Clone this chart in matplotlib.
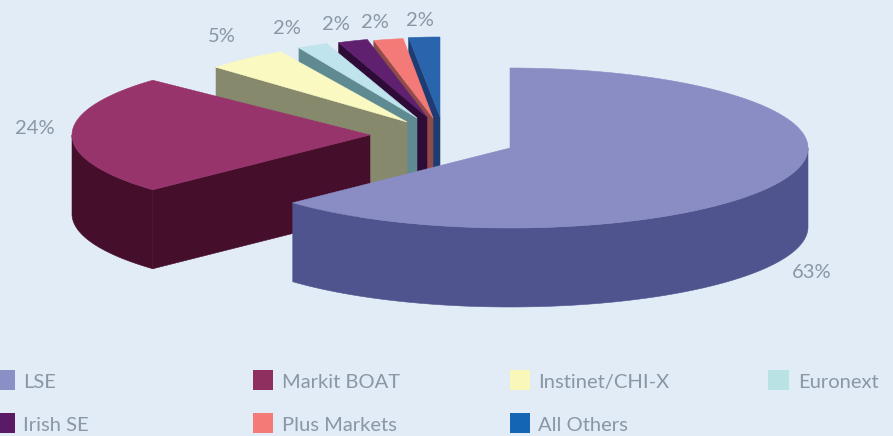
import numpy as np
import matplotlib
matplotlib.use("Agg")
import matplotlib.pyplot as plt
from matplotlib.patches import Polygon, Rectangle

# Market share by venue
venues = ["LSE", "Markit BOAT", "Instinet/CHI-X", "Euronext", "Irish SE", "Plus Markets", "All Others"]
shares = [63, 24, 5, 2, 2, 2, 2]

# Appearance of each slice
top_colors = ["#8a8cc4", "#97346b", "#fbf9c2", "#bfe4ee", "#5f2070", "#f47a78", "#2a64ad"]
wall_colors = ["#50548e", "#450f2c", "#87896c", "#5f8a92", "#2f0b38", "#8f4c48", "#1f3c72"]
swatch_colors = ["#8a8fc6", "#8f2f60", "#faf8b8", "#b8e2e4", "#5a1a66", "#f47a78", "#1565b5"]

# Pie layout, in pixels
slice_centres = [(510, 148), (370, 135), (407, 122), (417, 118), (427, 117), (433, 118), (440, 117)]
slice_rx = [298, 298, 262, 245, 240, 238, 250]
RY, DEPTH = 80, 79

label_pos = [(812, 272), (35, 128), (222, 37), (287, 28), (336, 25), (375, 23), (420, 21)]
legend_swatch = [(0, 370, 15), (253, 370, 20), (510, 370, 20), (768, 370, 21),
                 (0, 413, 15), (253, 413, 20), (510, 413, 20)]
legend_text = [(23, 382), (282, 382), (538, 382), (798, 382), (23, 425), (282, 425), (538, 425)]

BG = "#e2ecf6"
TEXT = "#8b96a6"
FONT = {"family": "Lato", "weight": "normal"}

fig = plt.figure(figsize=(8.93, 4.36), dpi=100, facecolor=BG)
ax = fig.add_axes([0, 0, 1, 1])
ax.set_xlim(0, 893)
ax.set_ylim(436, 0)
ax.axis("off")


def rim(cx, cy, rx, angles, drop=0):
    """Points on the projected rim; angles run clockwise from 12 o'clock."""
    return np.column_stack([cx + rx * np.sin(angles), cy - RY * np.cos(angles) + drop])


edges = np.radians(np.cumsum([0] + shares) * 3.6)

# Painted back to front: the smallest slices first, LSE last
for i in range(len(shares) - 1, -1, -1):
    a0, a1 = edges[i], edges[i + 1]
    cx, cy = slice_centres[i]
    rx = slice_rx[i]
    arc = np.linspace(a0, a1, 160)

    # Cut faces that turn towards the viewer
    if np.pi < a0 < 2 * np.pi:
        p = rim(cx, cy, rx, np.array([a0]))[0]
        ax.add_patch(Polygon([(cx, cy), p, (p[0], p[1] + DEPTH), (cx, cy + DEPTH)],
                             fc=wall_colors[i], ec=wall_colors[i], lw=0.4))
    if 0 < a1 < np.pi:
        p = rim(cx, cy, rx, np.array([a1]))[0]
        ax.add_patch(Polygon([(cx, cy), p, (p[0], p[1] + DEPTH), (cx, cy + DEPTH)],
                             fc=wall_colors[i], ec=wall_colors[i], lw=0.4))

    # Outer wall on the near half of the pie
    lo, hi = max(a0, np.pi / 2), min(a1, 3 * np.pi / 2)
    if lo < hi:
        near = np.linspace(lo, hi, 160)
        wall = np.vstack([rim(cx, cy, rx, near), rim(cx, cy, rx, near[::-1], DEPTH)])
        ax.add_patch(Polygon(wall, fc=wall_colors[i], ec=wall_colors[i], lw=0.4))

    # Top face
    top = np.vstack([[(cx, cy)], rim(cx, cy, rx, arc)])
    ax.add_patch(Polygon(top, fc=top_colors[i], ec=top_colors[i], lw=0.4))

# Percentage labels
for share, (x, y) in zip(shares, label_pos):
    ax.text(x, y, f"{share}%", color=TEXT, fontsize=14.5, ha="center", va="center", **FONT)

# Legend
for name, col, (sx, sy, w), (tx, ty) in zip(venues, swatch_colors, legend_swatch, legend_text):
    ax.add_patch(Rectangle((sx, sy), w, 20, fc=col, ec="none"))
    ax.text(tx, ty, name, color=TEXT, fontsize=14.5, ha="left", va="center", **FONT)

fig.savefig("out.png", dpi=100, facecolor=BG)
